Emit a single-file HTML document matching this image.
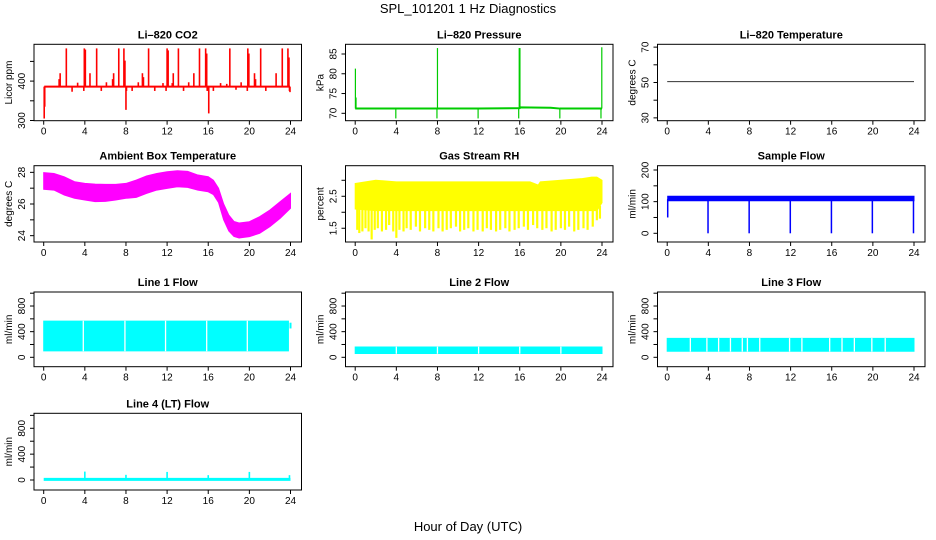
<!DOCTYPE html>
<html><head><meta charset="utf-8"><style>
html,body{margin:0;padding:0;background:#fff;}
svg{display:block;font-family:"Liberation Sans",Arial,sans-serif;}
</style></head><body>
<svg id="chart" width="936" height="540" viewBox="0 0 936 540" xmlns="http://www.w3.org/2000/svg">
<text x="468" y="13" text-anchor="middle" font-size="13">SPL_101201  1 Hz Diagnostics</text>
<text x="468" y="531" text-anchor="middle" font-size="13">Hour of Day (UTC)</text>
</svg>
<script>
// ---- data ----
const xTicks=[0,4,8,12,16,20,24];
const co2Base=386;
const co2SpikeHours=[0.05,0.1,1.5,1.6,2.2,2.76,3.3,3.9,3.95,4.05,4.5,5.15,5.6,6.1,6.7,6.8,7.3,7.8,7.9,8.0,8.05,8.6,9.2,9.6,9.7,10.2,10.8,11.6,11.9,12.0,12.1,12.5,12.6,13.1,13.6,14.1,14.6,15.15,15.75,15.85,15.9,16.05,16.5,17.2,17.8,18.1,18.7,19.2,19.8,19.85,19.95,20.5,20.6,21.1,21.6,22.6,23.2,23.75,23.85,23.9,23.95];
const co2SpikeVals=[305,335,405,420,483,373,396,375,483,480,420,483,375,397,405,420,483,483,452,327,375,375,397,420,410,483,375,395,375,483,478,395,420,483,375,397,420,483,483,470,375,318,375,395,393,483,378,397,375,483,470,420,405,483,375,420,483,483,460,375,372];
const co2Ticks=[300,350,400,450];
const co2Labels=["300","","400",""];
const pressBaseHours=[0,4,8,12,16,16.1,19,19.9,24];
const pressBaseVals=[71.2,71.2,71.2,71.2,71.3,71.5,71.4,71.2,71.2];
const pressSpikeHours=[0.02,0.08,3.95,7.95,8.0,11.95,15.9,15.95,16.02,19.9,23.9,23.98];
const pressSpikeVals=[81.3,74,68.7,68.7,86.5,68.7,68.7,86.5,86.5,68.7,68.7,86.7];
const pressTicks=[70,75,80,85];
const pressLabels=["70","75","80","85"];
const tempHours=[0,24];
const tempVals=[50.5,50.5];
const tempTicks=[30,40,50,60,70];
const tempLabels=["30","","50","","70"];
const ambHours=[0,1,2,3,4,5,6,7,8,9,10,11,12,13,14,15,16,16.5,17,17.5,18,18.5,19,20,21,22,23,24];
const ambHi=[27.98,27.93,27.72,27.41,27.3,27.26,27.24,27.24,27.3,27.51,27.77,27.93,28.04,28.1,28.06,27.83,27.72,27.5,27.0,26.0,25.3,24.9,24.8,24.88,25.2,25.62,26.15,26.67];
const ambLo=[26.93,26.88,26.57,26.36,26.25,26.15,26.17,26.25,26.36,26.42,26.67,26.88,26.99,27.09,27.05,26.88,26.77,26.6,26.1,25.0,24.3,23.95,23.85,23.94,24.15,24.57,25.1,25.73];
const ambTicks=[24,25,26,27,28];
const ambLabels=["24","","26","","28"];
const rhHours=[0,2,4,6,8,10,12,14,16,17,17.8,18,20,22,23,23.5,24];
const rhHi=[2.9,3.0,2.95,2.95,2.95,2.95,2.95,2.95,2.95,2.95,2.85,2.95,3.0,3.05,3.1,3.1,3.0];
const rhLo=[2.1,2.05,2.05,2.05,2.05,2.05,2.05,2.05,2.05,2.05,2.05,2.05,2.05,2.05,2.05,2.05,2.3];
const rhDropHours=[0.2,0.4,0.7,1.0,1.3,1.6,1.9,2.2,2.6,3.0,3.3,3.7,4.0,4.3,4.7,5.0,5.4,5.9,6.3,6.8,7.2,7.6,8.1,8.5,8.9,9.3,9.8,10.2,10.6,11.0,11.5,11.9,12.4,12.8,13.2,13.7,14.1,14.6,15.0,15.5,15.9,16.4,16.8,17.3,17.7,18.2,18.6,19.1,19.5,20.0,20.4,20.8,21.3,21.7,22.2,22.6,23.1,23.5,23.8];
const rhDropVals=[1.45,1.35,1.4,1.5,1.4,1.15,1.45,1.5,1.4,1.45,1.6,1.4,1.2,1.45,1.4,1.5,1.45,1.55,1.4,1.5,1.45,1.4,1.5,1.4,1.45,1.5,1.55,1.4,1.45,1.5,1.4,1.45,1.4,1.5,1.45,1.4,1.45,1.5,1.4,1.45,1.5,1.55,1.45,1.6,1.5,1.45,1.5,1.4,1.45,1.5,1.45,1.55,1.4,1.45,1.5,1.45,1.55,1.75,1.8];
const rhTicks=[1.5,2,2.5,3];
const rhLabels=["1.5","","2.5",""];
const sfHours=[0.05,24];
const sfHi=[117,117];
const sfLo=[103,103];
const sfDropHours=[0.05,3.97,7.97,11.97,15.97,19.95,23.95];
const sfDropVals=[50,0,0,0,0,0,0];
const sfTicks=[0,50,100,150,200];
const sfLabels=["0","","100","","200"];
const flowTicks=[0,200,400,600,800,1000];
const flowLabels=["0","","400","","800",""];
const l1Start=0, l1End=23.8, l1Hi=565, l1Lo=100;
const l1Gaps=[3.85,7.9,11.85,15.85,19.8];
const l1TailHour=24.0, l1TailHi=540, l1TailLo=450;
const l2Start=0, l2End=24, l2Hi=160, l2Lo=60;
const l2Gaps=[4.0,8.0,12.0,16.0,20.0];
const l3Start=0, l3End=24, l3Hi=295, l3Lo=95;
const l3Gaps=[2.25,3.86,5.0,6.15,7.3,7.8,9.0,11.9,13.1,15.8,17.0,18.2,19.9,21.2];
const l4Base=10;
const l4SpikeHours=[4,8,12,16,20,23.9];
const l4SpikeVals=[130,80,125,75,125,75];

// ---- layout ----
const NS="http://www.w3.org/2000/svg";
const svg=document.getElementById('chart');
const colLeft=[34,345.5,657.5], boxW=267.5;
const rowsY=[[44.3,120.7],[165.7,242],[292,366.7],[413.3,490]];
function mk(tag,attrs,parent){const e=document.createElementNS(NS,tag);for(const k in attrs)e.setAttribute(k,attrs[k]);(parent||svg).appendChild(e);return e;}

function panel(name,c,r,ylo,yhi,title,ylab,ticks,labels){
  const L=colLeft[c],T=rowsY[r][0],B=rowsY[r][1];
  const g=mk('g',{});
  
  
  const x=h=>L+9.7+h*(246.8/24);
  const y=v=>B-(v-ylo)/(yhi-ylo)*(B-T);
  const data=mk('g',{},g);
  
  
  const box=mk('rect',{x:L,y:T,width:boxW,height:B-T,fill:'none',stroke:'#000','stroke-width':1},g);
  
  
  const tt=mk('text',{x:L+boxW/2,y:T-6,'text-anchor':'middle','font-size':11,'font-weight':'bold'},g);
  tt.textContent=title;
  
  
  const xa=mk('g',{},g);
  
  
  xTicks.forEach(h=>{
    mk('line',{x1:x(h),x2:x(h),y1:B,y2:B+4,stroke:'#000'},xa);
    const t=mk('text',{x:x(h),y:B+14,'text-anchor':'middle','font-size':10},xa);t.textContent=h;
  });
  const ya=mk('g',{},g);
  
  
  ticks.forEach((v,i)=>{
    mk('line',{x1:L-4,x2:L,y1:y(v),y2:y(v),stroke:'#000'},ya);
    if(labels[i]){const t=mk('text',{x:0,y:0,'text-anchor':'middle','font-size':10,transform:`translate(${L-9},${y(v)}) rotate(-90)`},ya);t.textContent=labels[i];}
  });
  const yl=mk('text',{x:0,y:0,'text-anchor':'middle','font-size':10,transform:`translate(${L-22},${(T+B)/2}) rotate(-90)`},g);
  yl.textContent=ylab;
  
  
  return {x,y,g:data};
}
function vline(p,h,v0,v1,col,w){return mk('line',{x1:p.x(h),x2:p.x(h),y1:p.y(v0),y2:p.y(v1),stroke:col,'stroke-width':w},p.g);}
function band(p,hs,hi,lo,col){
  let d='M'+hs.map((h,i)=>p.x(h)+','+p.y(hi[i])).join('L');
  for(let i=hs.length-1;i>=0;i--)d+='L'+p.x(hs[i])+','+p.y(lo[i]);
  return mk('path',{d:d+'Z',fill:col,stroke:col,'stroke-width':1},p.g);
}
function poly(p,hs,vs,col,w){return mk('polyline',{points:hs.map((h,i)=>p.x(h)+','+p.y(vs[i])).join(' '),fill:'none',stroke:col,'stroke-width':w},p.g);}

// CO2
let p=panel('co2',0,0,299.5,493.4,'Li\u2013820 CO2','Licor ppm',co2Ticks,co2Labels);
poly(p,[0.05,23.95],[co2Base,co2Base],'#ff0000',2);
co2SpikeHours.forEach((h,i)=>vline(p,h,co2Base,co2SpikeVals[i],'#ff0000',1.6));
// Pressure
p=panel('pressure',1,0,68.13,87.45,'Li\u2013820 Pressure','kPa',pressTicks,pressLabels);
poly(p,pressBaseHours,pressBaseVals,'#00cc00',2);
pressSpikeHours.forEach((h,i)=>vline(p,h,pressBaseVals[0],pressSpikeVals[i],'#00cc00',1.2));
// Temperature
p=panel('li820-temperature',2,0,28.4,71.6,'Li\u2013820 Temperature','degrees C',tempTicks,tempLabels);
poly(p,tempHours,tempVals,'#333',1);
// Ambient
p=panel('ambient-temp',0,1,23.6,28.42,'Ambient Box Temperature','degrees C',ambTicks,ambLabels);
band(p,ambHours,ambHi,ambLo,'#ff00ff');
// RH
p=panel('gas-rh',1,1,1.07,3.456,'Gas Stream RH','percent',rhTicks,rhLabels);
band(p,rhHours,rhHi,rhLo,'#ffff00');
rhDropHours.forEach((h,i)=>vline(p,h,2.2,rhDropVals[i],'#ffff00',2.2));
// Sample flow
p=panel('sample-flow',2,1,-27.5,213.6,'Sample Flow','ml/min',sfTicks,sfLabels);
band(p,sfHours,sfHi,sfLo,'#0000ff');
sfDropHours.forEach((h,i)=>vline(p,h,108,sfDropVals[i],'#0000ff',1.5));
// Line flows
function gapBand(p,s,e,hi,lo,gaps,col){
  band(p,[s,e],[hi,hi],[lo,lo],col);
  gaps.forEach(h=>vline(p,h,hi+5,lo-5,'#ffffff',1.3));
}
p=panel('line1-flow',0,2,-146.6,1018.7,'Line 1 Flow','ml/min',flowTicks,flowLabels);
gapBand(p,l1Start,l1End,l1Hi,l1Lo,l1Gaps,'#00ffff');
vline(p,l1TailHour,l1TailHi,l1TailLo,'#00ffff',2);
p=panel('line2-flow',1,2,-146.6,1018.7,'Line 2 Flow','ml/min',flowTicks,flowLabels);
gapBand(p,l2Start,l2End,l2Hi,l2Lo,l2Gaps,'#00ffff');
p=panel('line3-flow',2,2,-146.6,1018.7,'Line 3 Flow','ml/min',flowTicks,flowLabels);
gapBand(p,l3Start,l3End,l3Hi,l3Lo,l3Gaps,'#00ffff');
p=panel('line4-flow',0,3,-154.7,1032,'Line 4 (LT) Flow','ml/min',flowTicks,flowLabels);
poly(p,[0,24],[l4Base,l4Base],'#00ffff',3);
l4SpikeHours.forEach((h,i)=>vline(p,h,l4Base,l4SpikeVals[i],'#00ffff',1.6));
</script>
</body></html>
